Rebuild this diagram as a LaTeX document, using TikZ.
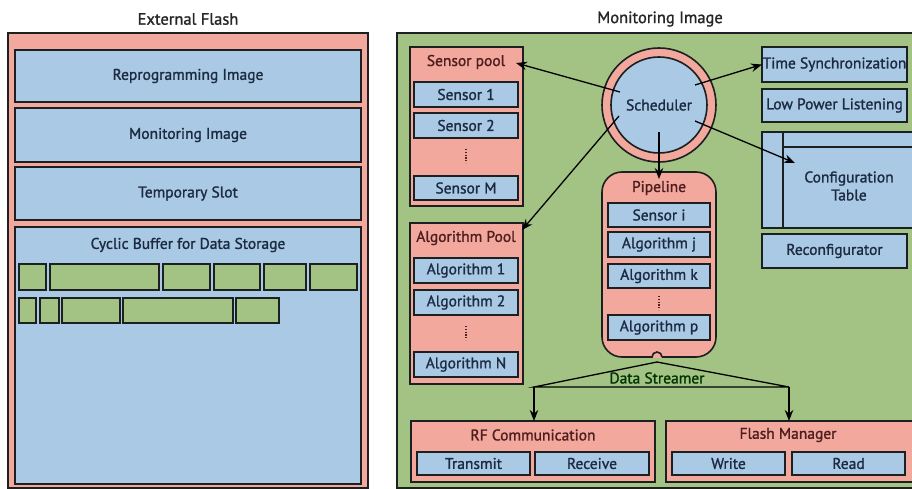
\documentclass[tikz,border=0pt]{standalone}
\usepackage{fontspec}
\setmainfont{PT Sans}[FakeBold=1.3]
\usetikzlibrary{arrows.meta}

\definecolor{pinkc}{RGB}{242,168,157}
\definecolor{bluec}{RGB}{170,201,228}
\definecolor{greenc}{RGB}{163,195,132}
\definecolor{edgec}{RGB}{28,32,32}
\definecolor{bluetxt}{RGB}{28,42,66}
\definecolor{redtxt}{RGB}{78,30,30}

% box from top-left corner (x1,y1) to bottom-right corner (x2,y2), in pixels
\newcommand\mkbox[7]{%
  \node[#2, minimum width={(#5-#3)*1pt}, minimum height={(#6-#4)*1pt}] (#1) at (#3,#4) {#7};}
\newcommand\txtsize{\fontsize{15.5}{18}\selectfont}

\begin{document}
\begin{tikzpicture}[x=1pt,y=-1pt,
  box/.style={draw=edgec, line width=1.6pt, inner sep=0pt, outer sep=0pt, anchor=north west},
  pinkbox/.style={box, fill=pinkc},
  greenbg/.style={box, fill=greenc},
  bluebox/.style={box, fill=bluec, text=bluetxt, font=\txtsize, align=center},
  cell/.style={box, fill=greenc, line width=1.4pt},
  plabel/.style={text=redtxt, font=\txtsize, inner sep=1pt},
  title/.style={text=black!85, font=\fontsize{16.5}{18}\selectfont, inner sep=0pt},
  vdots/.style={draw=redtxt, line width=1.6pt, dash pattern=on 1.2pt off 1.6pt},
  arr/.style={draw=black, line width=1.3pt, -{Stealth[length=11pt,width=8.5pt]}},
  link/.style={draw=black, line width=1.3pt}]

\clip (0,0) rectangle (912,489);
\fill[white] (0,0) rectangle (912,489);

% ---------------- External flash ----------------
\node[title] (tflash) at (188,19) {External Flash};
\mkbox{flash}{pinkbox}{8}{33}{368}{488}{}
\mkbox{repro}{bluebox}{15}{50}{361}{102}{Reprogramming Image}
\mkbox{monimg}{bluebox}{15}{108}{361}{162}{Monitoring Image}
\mkbox{temp}{bluebox}{15}{167}{361}{220}{Temporary Slot}
\mkbox{cyclic}{bluebox}{15}{227}{361}{484}{}
\node[text=bluetxt, font=\txtsize] (cyctxt) at (188,245) {Cyclic Buffer for Data Storage};
% stored records
\mkbox{ca}{cell}{19}{264}{46}{290}{}
\mkbox{cb}{cell}{50}{264}{159}{290}{}
\mkbox{cc}{cell}{163}{264}{210}{290}{}
\mkbox{cd}{cell}{214}{264}{260}{290}{}
\mkbox{ce}{cell}{264}{264}{306}{290}{}
\mkbox{cf}{cell}{310}{264}{357}{290}{}
\mkbox{cg}{cell}{19}{298}{36}{323}{}
\mkbox{ch}{cell}{40}{298}{59}{323}{}
\mkbox{ci}{cell}{62}{298}{120}{323}{}
\mkbox{cj}{cell}{123}{298}{233}{323}{}
\mkbox{ck}{cell}{236}{298}{279}{323}{}

% ---------------- Monitoring image ----------------
\node[title] (tmon) at (660,19) {Monitoring Image};
\mkbox{mon}{greenbg}{397}{33}{940}{488}{}

% sensor pool
\mkbox{spool}{pinkbox}{410}{47}{523}{206}{}
\node[plabel] (splabel) at (466,62) {Sensor pool};
\mkbox{s1}{bluebox}{414}{82}{518}{107}{Sensor 1}
\mkbox{s2}{bluebox}{414}{113}{518}{138}{Sensor 2}
\mkbox{sm}{bluebox}{414}{176}{518}{200}{Sensor M}
\draw[vdots] (466,149) -- (466,163);

% algorithm pool
\mkbox{apool}{pinkbox}{410}{223}{523}{384}{}
\node[plabel] (aplabel) at (466,238) {Algorithm Pool};
\mkbox{a1}{bluebox}{414}{258}{518}{283}{Algorithm 1}
\mkbox{a2}{bluebox}{414}{290}{518}{315}{Algorithm 2}
\mkbox{an}{bluebox}{414}{352}{518}{377}{Algorithm N}
\draw[vdots] (466,326) -- (466,340);

% scheduler
\node[circle, draw=edgec, line width=1.6pt, fill=pinkc, minimum size=114pt, inner sep=0pt] (schedout) at (659,105) {};
\node[circle, draw=edgec, line width=1.6pt, fill=bluec, minimum size=96pt, inner sep=0pt,
      text=bluetxt, font=\txtsize] (sched) at (659,105) {Scheduler};

% pipeline
\node[draw=edgec, line width=1.6pt, fill=pinkc, rounded corners=20pt, anchor=north west,
      minimum width=114pt, minimum height=185pt, inner sep=0pt, outer sep=0pt] (pipe) at (602,172) {};
\fill[pinkc] (652.5,355.5) rectangle (661.5,358.4);
\draw[edgec, line width=1.6pt, fill=pinkc] (652,357) arc[start angle=180, end angle=360, radius=5];
\node[plabel] (pipelabel) at (659,188) {Pipeline};
\mkbox{psi}{bluebox}{608}{203}{710}{227}{Sensor i}
\mkbox{paj}{bluebox}{608}{232}{710}{257}{Algorithm j}
\mkbox{pak}{bluebox}{608}{264}{710}{288}{Algorithm k}
\mkbox{pap}{bluebox}{608}{315}{710}{340}{Algorithm p}
\draw[vdots] (659,296) -- (659,310);

% services on the right
\mkbox{tsync}{bluebox}{762}{47}{907}{82}{Time Synchronization}
\mkbox{lpl}{bluebox}{762}{89}{907}{122}{Low Power Listening}
\mkbox{cfg}{bluebox}{762}{132}{930}{228}{}
\draw[edgec, line width=1.6pt] (783,132) -- (783,228);
\draw[edgec, line width=1.6pt] (783,147) -- (930,147);
\node[text=bluetxt, font=\fontsize{15.5}{18}\selectfont, align=center] (cfgtxt) at (849,186) {Configuration\\Table};
\mkbox{reconf}{bluebox}{762}{234}{907}{268}{Reconfigurator}

% output modules
\mkbox{rf}{pinkbox}{411}{421}{655}{482}{}
\node[plabel] (rflabel) at (533,435) {RF Communication};
\mkbox{tx}{bluebox}{417}{452}{530}{475}{Transmit}
\mkbox{rx}{bluebox}{535}{452}{649}{475}{Receive}
\mkbox{fm}{pinkbox}{666}{421}{930}{482}{}
\node[plabel] (fmlabel) at (788,435) {Flash Manager};
\mkbox{wr}{bluebox}{672}{452}{785}{475}{Write}
\mkbox{rd}{bluebox}{792}{452}{905}{475}{Read}

% data streamer
\coordinate (ds) at (657,362);
\coordinate (dl) at (534,387);
\coordinate (dr) at (789,387);
\draw[link] (dl) -- (ds) -- (dr) -- cycle;
\node[text=black!80!green, font=\txtsize, inner sep=0pt] (dstxt) at (657,378) {Data Streamer};
\draw[arr] (dl) -- (rf.north -| dl);
\draw[arr] (dr) -- (fm.north -| dr);

% scheduler dispatch
\coordinate (o1) at (620,92);
\coordinate (o2) at (619,116);
\coordinate (o3) at (695,85);
\coordinate (o4) at (695,121);
\coordinate (o5) at (659,132);
\coordinate (e1) at (516,63);
\coordinate (e2) at (522,230);
\coordinate (e4) at (795,163);
\coordinate (e5) at (659,179);
\draw[arr] (o1) -- (e1);
\draw[arr] (o2) -- (e2);
\draw[arr] (o3) -- (tsync.west);
\draw[arr] (o4) -- (e4);
\draw[arr] (o5) -- (e5);
\end{tikzpicture}
\end{document}
